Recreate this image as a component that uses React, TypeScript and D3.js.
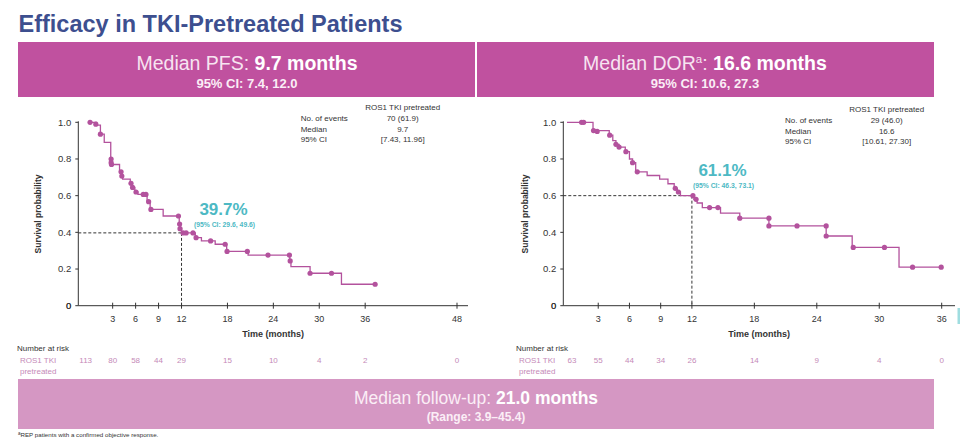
import React from "react";
import * as d3 from "d3";

// ---------- data ----------
const title = "Efficacy in TKI-Pretreated Patients";

// PFS (left) Kaplan-Meier steps: [month, survival]
const pfsSteps: [number, number][] = [
  [0, 1.0], [0.9, 0.985], [1.4, 0.935], [1.9, 0.89], [2.75, 0.8], [2.8, 0.78], [2.85, 0.77],
  [3.9, 0.73], [4.15, 0.707], [4.3, 0.69], [5.3, 0.667], [5.5, 0.645], [5.9, 0.62], [6.3, 0.607],
  [7.5, 0.567], [7.9, 0.525], [9.6, 0.489], [11.7, 0.445], [11.8, 0.42], [12.0, 0.397],
  [13.8, 0.371], [14.6, 0.353], [16.4, 0.335], [17.9, 0.296], [20.7, 0.276], [26.15, 0.244],
  [26.3, 0.213], [28.8, 0.177], [32.9, 0.117], [37.3, 0.117],
];
const pfsCensor: [number, number][] = [
  [0.05, 1.0], [0.8, 0.99], [1.4, 0.935], [2.8, 0.8], [2.8, 0.78], [2.85, 0.77], [4.1, 0.73],
  [4.2, 0.707], [5.4, 0.667], [5.6, 0.645], [6.05, 0.62], [7.0, 0.607], [7.35, 0.607],
  [7.7, 0.567], [8.0, 0.525], [11.6, 0.489], [11.75, 0.445], [11.8, 0.42], [12.2, 0.397],
  [12.6, 0.397], [13.5, 0.397], [13.9, 0.371], [15.8, 0.353], [17.7, 0.335], [17.95, 0.296],
  [20.6, 0.296], [23.3, 0.276], [26.1, 0.276], [26.2, 0.244], [28.8, 0.177], [31.6, 0.177],
  [37.3, 0.117],
];
const pfsTicks = [3, 6, 9, 12, 18, 24, 30, 36, 48];
const pfsRiskTimes = [0, 3, 6, 9, 12, 18, 24, 30, 36, 48];
const pfsRisk = [113, 80, 58, 44, 29, 15, 10, 4, 2, 0];
const pfsTableLabels = ["No. of events", "Median", "95% CI"];
const pfsTableValues = ["70 (61.9)", "9.7", "[7.43, 11.96]"];

// DOR (right)
const dorSteps: [number, number][] = [
  [0, 1.0], [2.5, 0.955], [4.06, 0.93], [4.4, 0.9], [4.7, 0.88], [5.0, 0.865], [5.6, 0.84],
  [6.0, 0.8], [6.3, 0.78], [6.6, 0.73], [7.7, 0.71], [8.9, 0.69], [9.7, 0.665], [10.3, 0.64],
  [10.6, 0.62], [10.9, 0.6], [12.2, 0.58], [12.5, 0.56], [13.0, 0.535], [14.75, 0.505],
  [16.6, 0.477], [19.4, 0.435], [24.9, 0.38], [27.4, 0.318], [31.9, 0.21], [35.95, 0.21],
];
const dorCensor: [number, number][] = [
  [1.4, 1.0], [1.6, 1.0], [2.55, 0.955], [2.9, 0.95], [4.1, 0.93], [4.7, 0.88], [5.0, 0.865],
  [5.66, 0.84], [6.3, 0.78], [6.75, 0.73], [10.4, 0.64], [10.7, 0.62], [12.1, 0.6],
  [12.4, 0.58], [13.7, 0.535], [14.5, 0.535], [16.6, 0.477], [19.4, 0.477], [19.4, 0.435],
  [22.1, 0.435], [24.9, 0.435], [24.9, 0.38], [27.5, 0.318], [30.5, 0.318], [33.2, 0.21],
  [35.95, 0.21],
];
const dorTicks = [3, 6, 9, 12, 18, 24, 30, 36];
const dorRiskTimes = [0, 3, 6, 9, 12, 18, 24, 30, 36];
const dorRisk = [63, 55, 44, 34, 26, 14, 9, 4, 0];
const dorTableLabels = ["No. of events", "Median", "95% CI"];
const dorTableValues = ["29 (46.0)", "16.6", "[10.61, 27.30]"];

const yTicks = [0, 0.2, 0.4, 0.6, 0.8, 1.0];

// ---------- styles ----------
const FONT = "'Liberation Sans', Arial, sans-serif";
const CURVE = "#b3529d";
const BAND = "#c0519f";
const BAND2 = "#d597c3";
const TEAL = "#4db9c4";
const INK = "#333";
const RISK = "#c58ab8";

type PanelProps = {
  steps: [number, number][];
  censor: [number, number][];
  xMax: number;
  xRange: [number, number];
  axisLeft: number;
  axisRight: number;
  ticks: number[];
  riskTimes: number[];
  risk: number[];
  firstRiskOffset: number;
  landmarkT: number;
  landmarkS: number;
  pct: string;
  ci: string;
  pctX: number;
  pctY: number;
  tableX: number;
  tableValX: number;
  tableY: number;
  tableLabels: string[];
  tableValues: string[];
  riskLabelX: number;
  yTitleX: number;
};

function Panel(p: PanelProps) {
  const x = d3.scaleLinear().domain([0, p.xMax]).range(p.xRange);
  const y = d3.scaleLinear().domain([0, 1]).range([305.7, 122.3]);
  const line = d3
    .line<[number, number]>()
    .x((d) => x(d[0]))
    .y((d) => y(d[1]))
    .curve(d3.curveStepAfter);
  const y0 = y(0);
  const axisMid = (p.axisLeft + p.axisRight) / 2;
  return (
    <g fontFamily={FONT}>
      {/* y axis */}
      <line x1={p.axisLeft} x2={p.axisLeft} y1={y(1) - 1} y2={y0} stroke={INK} strokeWidth={1} />
      {yTicks.map((t) => (
        <g key={t}>
          <line x1={p.axisLeft - 3} x2={p.axisLeft} y1={y(t)} y2={y(t)} stroke={INK} />
          <text x={p.axisLeft - 7} y={y(t) + 3.3} textAnchor="end" fontSize={9.5} fill={INK}>
            {t === 0 ? "0" : t.toFixed(1)}
          </text>
        </g>
      ))}
      <text
        transform={`translate(${p.yTitleX},${(y(0) + y(1)) / 2}) rotate(-90)`}
        textAnchor="middle"
        fontSize={8.5}
        fontWeight="bold"
        fill={INK}
      >
        Survival probability
      </text>
      {/* x axis */}
      <line x1={p.axisLeft} x2={p.axisRight} y1={y0} y2={y0} stroke={INK} strokeWidth={1} />
      {p.ticks.map((t) => (
        <g key={t}>
          <line x1={x(t)} x2={x(t)} y1={y0 - 3} y2={y0 + 3} stroke={INK} />
          <text x={x(t)} y={y0 + 16.5} textAnchor="middle" fontSize={9} fill={INK}>
            {t}
          </text>
        </g>
      ))}
      <text x={p.axisLeft - 7} y={y0 + 3.3} textAnchor="end" fontSize={9.5} fill={INK}>
        0
      </text>
      <text x={axisMid} y={y0 + 31.5} textAnchor="middle" fontSize={9} fontWeight="bold" fill={INK}>
        Time (months)
      </text>
      {/* landmark dashed lines */}
      <line
        x1={p.axisLeft}
        x2={x(p.landmarkT)}
        y1={y(p.landmarkS)}
        y2={y(p.landmarkS)}
        stroke={INK}
        strokeDasharray="3,2"
      />
      <line
        x1={x(p.landmarkT)}
        x2={x(p.landmarkT)}
        y1={y(p.landmarkS)}
        y2={y0}
        stroke={INK}
        strokeDasharray="3,2"
      />
      {/* curve */}
      <path d={line(p.steps) || ""} fill="none" stroke={CURVE} strokeWidth={1.3} />
      {p.censor.map((d, i) => (
        <circle key={i} cx={x(d[0])} cy={y(d[1])} r={2.6} fill={CURVE} />
      ))}
      {/* annotation */}
      <text x={p.pctX} y={p.pctY} textAnchor="middle" fontSize={17} fontWeight="bold" fill={TEAL}>
        {p.pct}
      </text>
      <text x={p.pctX + 1} y={p.pctY + 12} textAnchor="middle" fontSize={6.8} fontWeight="bold" fill={TEAL}>
        {p.ci}
      </text>
      {/* table */}
      <text x={p.tableValX} y={p.tableY} textAnchor="middle" fontSize={8} fill={INK}>
        ROS1 TKI pretreated
      </text>
      {p.tableLabels.map((l, i) => (
        <g key={l}>
          <text x={p.tableX} y={p.tableY + 11 + i * 10.5} fontSize={8} fill={INK}>
            {l}
          </text>
          <text x={p.tableValX} y={p.tableY + 11 + i * 10.5} textAnchor="middle" fontSize={8} fill={INK}>
            {p.tableValues[i]}
          </text>
        </g>
      ))}
      {/* number at risk */}
      <text x={p.riskLabelX} y={350.5} fontSize={8} fill={INK}>
        Number at risk
      </text>
      <text x={p.riskLabelX + 3} y={363} fontSize={8} fill={RISK}>
        ROS1 TKI
      </text>
      <text x={p.riskLabelX + 3} y={373.5} fontSize={8} fill={RISK}>
        pretreated
      </text>
      {p.riskTimes.map((t, i) => (
        <text
          key={t}
          x={x(t) + (i === 0 ? p.firstRiskOffset : 0)}
          y={363}
          textAnchor="middle"
          fontSize={8}
          fill={RISK}
        >
          {p.risk[i]}
        </text>
      ))}
    </g>
  );
}

export default function App() {
  return (
    <svg
      width={960}
      height={438}
      style={{ position: "absolute", left: 0, top: 0, background: "#fff" }}
      fontFamily={FONT}
    >
      <rect x={0} y={0} width={960} height={438} fill="#fff" />
      <text x={18.5} y={31.5} fontSize={23.5} fontWeight="bold" fill="#3d4f8f">
        {title}
      </text>
      {/* header bands */}
      <rect x={18} y={42} width={457} height={55} fill={BAND} />
      <rect x={477} y={42} width={457} height={55} fill={BAND} />
      <text x={247} y={70} textAnchor="middle" fontSize={19.5} fill="#f7e4f1">
        Median PFS: <tspan fontWeight="bold" fill="#fff">9.7 months</tspan>
      </text>
      <text x={247} y={87.5} textAnchor="middle" fontSize={13} fontWeight="bold" fill="#fbeef6">
        95% CI: 7.4, 12.0
      </text>
      <text x={705} y={70} textAnchor="middle" fontSize={19.5} fill="#f7e4f1">
        Median DOR
        <tspan fontSize={11.5} dy={-7.5}>a</tspan>
        <tspan dy={7.5}>: </tspan>
        <tspan fontWeight="bold" fill="#fff">16.6 months</tspan>
      </text>
      <text x={705} y={87.5} textAnchor="middle" fontSize={13} fontWeight="bold" fill="#fbeef6">
        95% CI: 10.6, 27.3
      </text>

      <Panel
        steps={pfsSteps}
        censor={pfsCensor}
        xMax={48}
        xRange={[89.7, 457]}
        axisLeft={78.3}
        axisRight={468}
        ticks={pfsTicks}
        riskTimes={pfsRiskTimes}
        risk={pfsRisk}
        firstRiskOffset={-4}
        landmarkT={12}
        landmarkS={0.397}
        pct="39.7%"
        ci="(95% CI: 29.6, 49.6)"
        pctX={223.5}
        pctY={214.5}
        tableX={300.7}
        tableValX={402.7}
        tableY={110}
        tableLabels={pfsTableLabels}
        tableValues={pfsTableValues}
        riskLabelX={17}
        yTitleX={41}
      />
      <Panel
        steps={dorSteps}
        censor={dorCensor}
        xMax={36}
        xRange={[567, 941.7]}
        axisLeft={563.3}
        axisRight={955}
        ticks={dorTicks}
        riskTimes={dorRiskTimes}
        risk={dorRisk}
        firstRiskOffset={5}
        landmarkT={12}
        landmarkS={0.6}
        pct="61.1%"
        ci="(95% CI: 46.3, 73.1)"
        pctX={722.5}
        pctY={176}
        tableX={785}
        tableValX={886.7}
        tableY={112}
        tableLabels={dorTableLabels}
        tableValues={dorTableValues}
        riskLabelX={516}
        yTitleX={528}
      />
      <rect x={957.5} y={308} width={2.5} height={16} fill="#9fdde0" />

      {/* bottom band */}
      <rect x={18} y={379} width={916} height={50} fill={BAND2} />
      <text x={476} y={404} textAnchor="middle" fontSize={17.5} fill="#fbeef6">
        Median follow-up: <tspan fontWeight="bold" fill="#fff">21.0 months</tspan>
      </text>
      <text x={476} y={420.5} textAnchor="middle" fontSize={12} fontWeight="bold" fill="#fbeef6">
        (Range: 3.9–45.4)
      </text>
      <text x={18} y={436.5} fontSize={6.2} fill={INK}>
        <tspan fontSize={4.5} dy={-2}>a</tspan>
        <tspan dy={2}>REP patients with a confirmed objective response.</tspan>
      </text>
    </svg>
  );
}
